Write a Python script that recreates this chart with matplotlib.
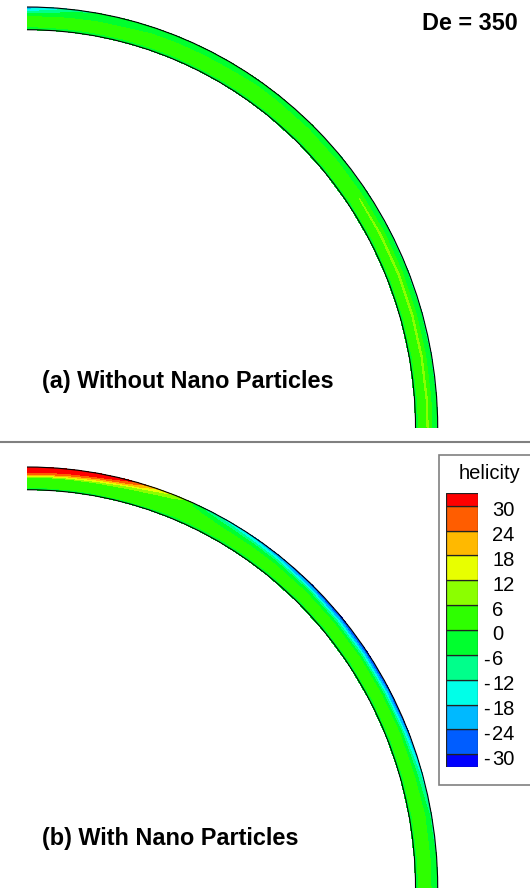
"""
Helicity contours in a curved channel, De = 350
(a) without / (b) with nano particles
"""

import numpy as np
import matplotlib
matplotlib.use("Agg")
import matplotlib.pyplot as plt
from matplotlib.patches import Arc, Rectangle

# ── Data ──────────────────────────────────────────────────────
# contour levels of helicity and the band colours (low -> high)
LEVELS = [-30, -24, -18, -12, -6, 0, 6, 12, 18, 24, 30]
COLORS = ["#0000FF", "#005DFF", "#00B9FF", "#00FFE8", "#00FF8B", "#00FF2E",
          "#2EFF00", "#8BFF00", "#E8FF00", "#FFB900", "#FF5D00", "#FF0000"]

# sample angles along the bend (deg) and positions across the channel
# (0 = inner wall, 1 = outer wall)
THETA = [90, 87, 84, 80, 76, 72, 68, 64, 60, 56, 52, 46, 40, 34, 28, 22, 16, 10, 4, 0]
S_POS = [0.0, 0.2, 0.4, 0.55, 0.7, 0.85, 1.0]

# helicity, one row per angle
HEL_A = [
    [-2, 1, 2, 1, -6, -15, -24],
    [-2, 1, 2, 1, -4, -11, -19],
    [-2, 1, 2, 1, -2, -6, -12],
    [-2, 1, 2, 1, -1, -3, -6],
    [-2, 1, 2, 1, -1, -2, -4],
    [-2, 1, 2, 2, 0, -2, -4],
    [-2, 1, 2, 2, 0, -2, -4],
    [-2, 1, 2, 2, 0, -2, -4],
    [-2, 1, 2, 2, 0, -2, -5],
    [-2, 1, 2, 3, 1, -2, -5],
    [-2, 1, 2, 3, 1, -2, -6],
    [-2, 1, 2, 4, 1, -2, -6],
    [-2, 1, 2, 5, 1, -3, -7],
    [-2, 1, 2, 6, 1, -3, -7],
    [-2, 1, 2, 7, 1, -3, -8],
    [-2, 1, 2, 7, 1, -3, -8],
    [-2, 1, 2, 7, 1, -3, -8],
    [-2, 1, 2, 7, 1, -3, -8],
    [-2, 1, 2, 7, 1, -3, -7],
    [-2, 1, 2, 7, 1, -3, -7],
]
HEL_B = [
    [-2, 2, 6, 5, 26, 34, 42],
    [-2, 2, 6, 5, 25, 34, 41],
    [-2, 2, 6, 5, 23, 33, 40],
    [-2, 2, 5, 4, 18, 31, 38],
    [-2, 2, 4, 3, 10, 25, 33],
    [-2, 2, 3, 3, 5, 12, 20],
    [-2, 1, 3, 2, 2, 4, 8],
    [-2, 1, 2, 2, 0, -4, -10],
    [-2, 1, 2, 1, -3, -10, -18],
    [-2, 1, 2, 1, -4, -14, -22],
    [-2, 1, 2, 1, -5, -16, -26],
    [-2, 1, 2, 1, -6, -19, -29],
    [-2, 1, 2, 1, -8, -21, -31],
    [-2, 1, 2, 2, -8, -21, -31],
    [-2, 1, 2, 2, -7, -20, -30],
    [-2, 1, 2, 3, -5, -17, -28],
    [-2, 1, 2, 3, -3, -10, -17],
    [-2, 1, 2, 4, 0, -4, -9],
    [-2, 1, 2, 4, 0, -3, -7],
    [-2, 1, 2, 4, 0, -3, -7],
]

TITLE = "De = 350"
LABEL_A = "(a) Without Nano Particles"
LABEL_B = "(b) With Nano Particles"
LEGEND_TITLE = "helicity"

# ── Layout (pixels) ───────────────────────────────────────────
W, H = 530, 888
R_OUT, R_IN = 1.0, 0.946
SX, SY = 410.7, 421.0        # px per unit, horizontal / vertical
CX = 27                      # bend centre, px from left
FONT = "Liberation Sans"

plt.rcParams["font.family"] = [FONT, "DejaVu Sans"]

fig = plt.figure(figsize=(W / 100, H / 100), dpi=100)


def px_axes(left, top, right, bottom):
    return fig.add_axes([left / W, 1 - bottom / H,
                         (right - left) / W, (bottom - top) / H])


def fig_text(x, y, s, **kw):
    return fig.text(x / W, 1 - y / H, s, **kw)


th, ss = np.meshgrid(np.radians(THETA), S_POS, indexing="ij")
rr = R_IN + ss * (R_OUT - R_IN)
X, Y = rr * np.cos(th), rr * np.sin(th)
bounds = [-1000] + LEVELS + [1000]


def draw_panel(ax, values, cy_px, top_px, bottom_px):
    ax.contourf(X, Y, np.array(values, dtype=float), levels=bounds, colors=COLORS)
    for r in (R_OUT, R_IN):
        ax.add_patch(Arc((0, 0), 2 * r, 2 * r, theta1=0, theta2=90,
                         color="black", lw=0.8))
    ax.set_xlim(-CX / SX, (W - CX) / SX)
    ax.set_ylim(-(bottom_px - cy_px) / SY, (cy_px - top_px) / SY)
    ax.axis("off")


ax_a = px_axes(0, 0, W, 443)
draw_panel(ax_a, HEL_A, 428, 0, 443)
ax_b = px_axes(0, 443, W, H)
draw_panel(ax_b, HEL_B, 888, 443, H)

# separator between panels
fig.add_artist(plt.Line2D([0, 1], [1 - 442.5 / H] * 2, transform=fig.transFigure,
                          color="#808080", lw=1.5))

fig_text(470, 24, TITLE, ha="center", va="center", fontsize=16.8, fontweight="bold")
fig_text(42, 381, LABEL_A, ha="left", va="center", fontsize=16.9, fontweight="bold")
fig_text(42, 838, LABEL_B, ha="left", va="center", fontsize=16.9, fontweight="bold")

# ── Legend ────────────────────────────────────────────────────
fig.add_artist(Rectangle((438.5 / W, 1 - 785 / H), 110 / W, 330 / H,
                         transform=fig.transFigure, facecolor="white",
                         edgecolor="#808080", lw=1.2, zorder=1))

ax_l = px_axes(446, 493.3, 478, 766.7)
ax_l.set_zorder(2)
edges = [LEVELS[-1] + 4.2] + [v + 1.2 for v in LEVELS[::-1]] + [LEVELS[0] - 1.8]
edges = edges[::-1]
ax_l.bar(0, np.diff(edges), bottom=edges[:-1], width=1, color=COLORS,
         edgecolor="#222222", lw=0.9)
ax_l.set_xlim(-0.5, 0.5)
ax_l.set_ylim(edges[0], edges[-1])
ax_l.axis("off")

tr = ax_l.get_yaxis_transform()
for v in LEVELS:
    ax_l.text(1.44, v, str(abs(v)), transform=tr, ha="left", va="center",
              fontsize=14.5, clip_on=False)
    if v < 0:
        ax_l.text(1.36, v, "-", transform=tr, ha="right", va="center",
                  fontsize=14.5, clip_on=False)

fig_text(490, 473, LEGEND_TITLE, ha="center", va="center", fontsize=14.5, zorder=3)

fig.savefig("out.png", dpi=100)
